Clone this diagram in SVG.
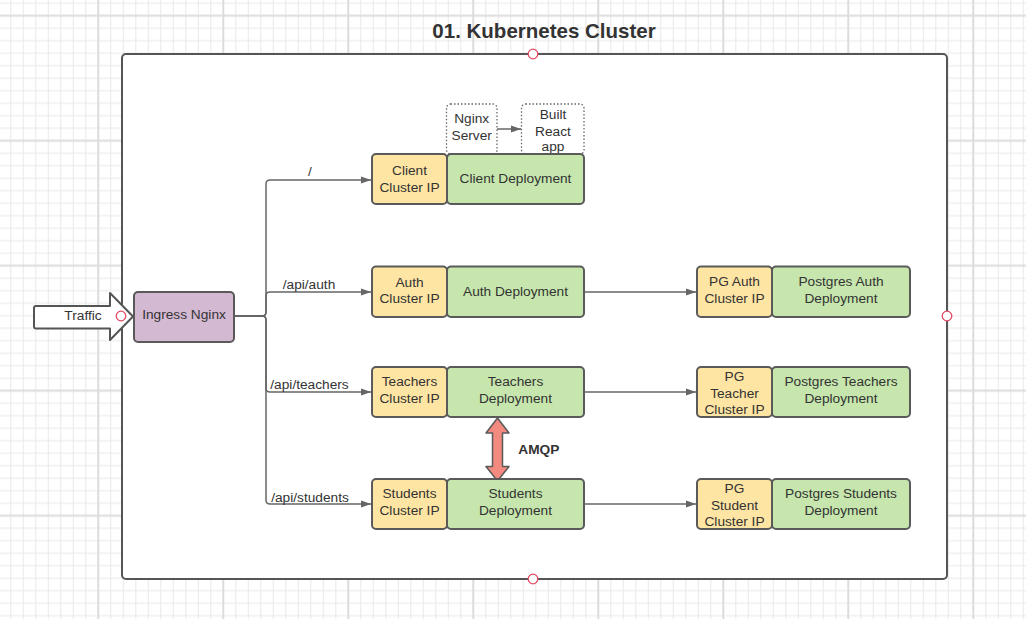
<svg xmlns="http://www.w3.org/2000/svg" width="1026" height="619" viewBox="0 0 1026 619">
<defs>
<pattern id="grid" width="125" height="125" patternUnits="userSpaceOnUse" x="92.05" y="9.45">
<g stroke="#e8e8e8" stroke-width="1">
<path d="M18.75,0V125M31.25,0V125M43.75,0V125M56.25,0V125M68.75,0V125M81.25,0V125M93.75,0V125M106.25,0V125M118.75,0V125"/>
<path d="M0,18.75H125M0,31.25H125M0,43.75H125M0,56.25H125M0,68.75H125M0,81.25H125M0,93.75H125M0,106.25H125M0,118.75H125"/>
</g>
<g stroke="#dcdcdc" stroke-width="2">
<path d="M6.25,0V125M0,6.25H125"/>
</g>
</pattern>
<marker id="arr" markerUnits="userSpaceOnUse" markerWidth="11" markerHeight="8" refX="10" refY="4" orient="auto">
<path d="M0,0.5 L10,4 L0,7.5 z" fill="#666"/>
</marker>
<style>
.t{font-family:"Liberation Sans",Arial,sans-serif;font-size:13.7px;fill:#333;text-anchor:middle}
.ip{fill:#ffe5a3;stroke:#5a5a5a;stroke-width:2}
.dep{fill:#c6e6ad;stroke:#5a5a5a;stroke-width:2}
.dot{fill:#fff;stroke:#666;stroke-width:1.3;stroke-dasharray:1.5 2}
.c{fill:none;stroke:#666;stroke-width:1.5}
.pt{fill:#fff;stroke:#e04a63;stroke-width:1.3}
</style>
</defs>
<rect x="0" y="0" width="1026" height="619" fill="#fff"/>
<rect x="0" y="0" width="1026" height="619" fill="url(#grid)"/>

<g id="cluster">
<rect x="122" y="54" width="825" height="525" rx="4" fill="#fff" stroke="#555" stroke-width="2"/>
<text x="544" y="38" font-family="'Liberation Sans',Arial,sans-serif" font-size="20.5" font-weight="bold" fill="#333" text-anchor="middle">01. Kubernetes Cluster</text>
</g>

<g id="connectors">
<path class="c" d="M234,316 H262 Q266,316 266,312 V184 Q266,180 270,180 H371" marker-end="url(#arr)"/>
<path class="c" d="M234,316 H262 Q266,316 266,312 V296 Q266,292 270,292 H371" marker-end="url(#arr)"/>
<path class="c" d="M234,316 H262 Q266,316 266,320 V388 Q266,392 270,392 H371" marker-end="url(#arr)"/>
<path class="c" d="M234,316 H262 Q266,316 266,320 V500 Q266,504 270,504 H371" marker-end="url(#arr)"/>
<path class="c" d="M584,292 H696" marker-end="url(#arr)"/>
<path class="c" d="M584,392 H696" marker-end="url(#arr)"/>
<path class="c" d="M584,504 H696" marker-end="url(#arr)"/>
<path class="c" d="M497,129 H521" marker-end="url(#arr)"/>
<text class="t" x="310" y="176">/</text>
<text class="t" x="309" y="289">/api/auth</text>
<text class="t" x="309.5" y="389">/api/teachers</text>
<text class="t" x="310" y="501.5">/api/students</text>
</g>

<g id="amqp">
<path d="M497.5,418 L509,433 L502.5,433 L502.5,466.5 L509,466.5 L497.5,481 L486,466.5 L492.5,466.5 L492.5,433 L486,433 Z" fill="#f28a80" stroke="#5a5a5a" stroke-width="1.5" stroke-linejoin="round"/>
<text x="518.3" y="453.5" font-family="'Liberation Sans',Arial,sans-serif" font-size="13.7" font-weight="bold" fill="#333">AMQP</text>
</g>

<g id="traffic">
<path d="M36,306 H110 V293 L133,316.5 L110,340 V328.5 H36 Q34,328.5 34,326.5 V308 Q34,306 36,306 Z" fill="#fff" stroke="#555" stroke-width="2" stroke-linejoin="round"/>
<text class="t" x="83" y="320">Traffic</text>
</g>

<g id="ingress">
<rect x="134" y="292" width="100" height="50" rx="4" fill="#d4b9d2" stroke="#5a5a5a" stroke-width="2"/>
<text class="t" x="184" y="319.3">Ingress Nginx</text>
</g>

<g id="nginx-server">
<rect class="dot" x="446.5" y="104" width="50.5" height="50" rx="4"/>
<text class="t" x="471.7" y="123.3">Nginx</text>
<text class="t" x="471.7" y="140">Server</text>
</g>
<g id="react-app">
<rect class="dot" x="521.5" y="104" width="62.5" height="50" rx="4"/>
<text class="t" x="553" y="119.3">Built</text>
<text class="t" x="553" y="136">React</text>
<text class="t" x="553" y="150.5">app</text>
</g>

<g id="client-ip">
<rect class="ip" x="372" y="154" width="75" height="50" rx="4"/>
<text class="t" x="409.5" y="175">Client</text>
<text class="t" x="409.5" y="191.7">Cluster IP</text>
</g>
<g id="client-dep">
<rect class="dep" x="447" y="154" width="137" height="50" rx="4"/>
<text class="t" x="515.5" y="183.3">Client Deployment</text>
</g>

<g id="auth-ip">
<rect class="ip" x="372" y="266.5" width="75" height="50.5" rx="4"/>
<text class="t" x="409.5" y="286.5">Auth</text>
<text class="t" x="409.5" y="303">Cluster IP</text>
</g>
<g id="auth-dep">
<rect class="dep" x="447" y="266.5" width="137" height="50.5" rx="4"/>
<text class="t" x="515.5" y="295.5">Auth Deployment</text>
</g>

<g id="teachers-ip">
<rect class="ip" x="372" y="367" width="75" height="50" rx="4"/>
<text class="t" x="409.5" y="385.7">Teachers</text>
<text class="t" x="409.5" y="402.5">Cluster IP</text>
</g>
<g id="teachers-dep">
<rect class="dep" x="447" y="367" width="137" height="50" rx="4"/>
<text class="t" x="515.5" y="385.7">Teachers</text>
<text class="t" x="515.5" y="402.5">Deployment</text>
</g>

<g id="students-ip">
<rect class="ip" x="372" y="479" width="75" height="50" rx="4"/>
<text class="t" x="409.5" y="498.3">Students</text>
<text class="t" x="409.5" y="515">Cluster IP</text>
</g>
<g id="students-dep">
<rect class="dep" x="447" y="479" width="137" height="50" rx="4"/>
<text class="t" x="515.5" y="498.3">Students</text>
<text class="t" x="515.5" y="515">Deployment</text>
</g>

<g id="pg-auth-ip">
<rect class="ip" x="697" y="266.5" width="75" height="50.5" rx="4"/>
<text class="t" x="734.5" y="286.3">PG Auth</text>
<text class="t" x="734.5" y="303">Cluster IP</text>
</g>
<g id="pg-auth-dep">
<rect class="dep" x="772" y="266.5" width="138" height="50.5" rx="4"/>
<text class="t" x="841" y="286.3">Postgres Auth</text>
<text class="t" x="841" y="303">Deployment</text>
</g>

<g id="pg-teacher-ip">
<rect class="ip" x="697" y="367" width="75" height="50" rx="4"/>
<text class="t" x="734.5" y="381">PG</text>
<text class="t" x="734.5" y="397.7">Teacher</text>
<text class="t" x="734.5" y="414.3">Cluster IP</text>
</g>
<g id="pg-teachers-dep">
<rect class="dep" x="772" y="367" width="138" height="50" rx="4"/>
<text class="t" x="841" y="385.7">Postgres Teachers</text>
<text class="t" x="841" y="402.5">Deployment</text>
</g>

<g id="pg-student-ip">
<rect class="ip" x="697" y="479" width="75" height="50" rx="4"/>
<text class="t" x="734.5" y="493">PG</text>
<text class="t" x="734.5" y="509.7">Student</text>
<text class="t" x="734.5" y="526.3">Cluster IP</text>
</g>
<g id="pg-students-dep">
<rect class="dep" x="772" y="479" width="138" height="50" rx="4"/>
<text class="t" x="841" y="498.3">Postgres Students</text>
<text class="t" x="841" y="515">Deployment</text>
</g>

<g id="points">
<circle class="pt" cx="533" cy="54" r="4.8"/>
<circle class="pt" cx="947" cy="316" r="4.8"/>
<circle class="pt" cx="533" cy="579" r="4.8"/>
<circle class="pt" cx="121" cy="316" r="4.8"/>
</g>
</svg>
